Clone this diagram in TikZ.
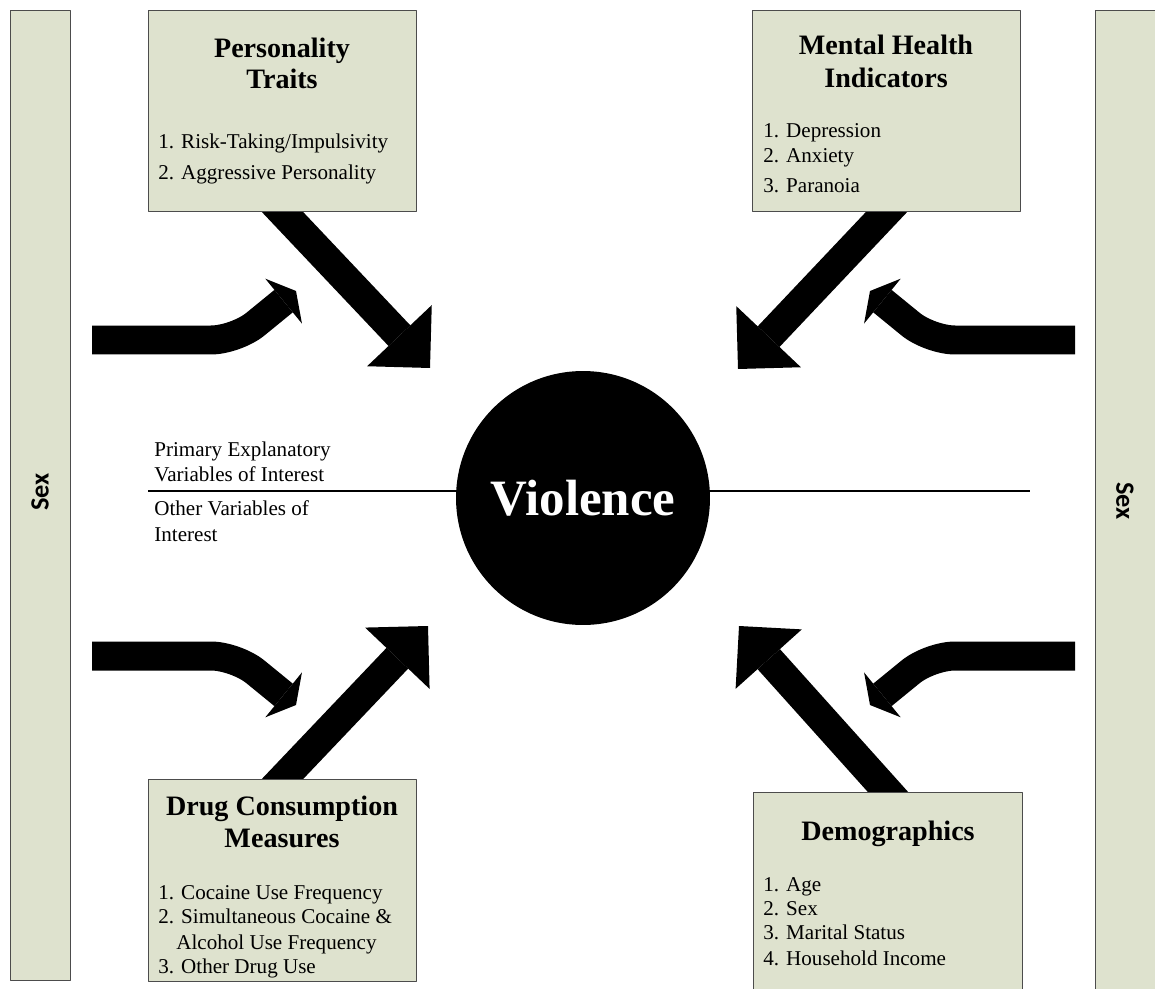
\documentclass[tikz,border=0pt]{standalone}
\usepackage{fontspec}
\setmainfont{Liberation Serif}
\newfontfamily\sexfont{Carlito}
\usetikzlibrary{arrows.meta,backgrounds}
\definecolor{boxgreen}{RGB}{222,226,206}

\begin{document}
\begin{tikzpicture}[x=0.02cm, y=-0.02cm, line join=round,
		varbox/.style={draw=black!70, line width=0.6pt, fill=boxgreen, inner sep=0pt, anchor=north west},
		title/.style={font=\bfseries\fontsize{16}{19}\selectfont, anchor=base, inner sep=0pt},
		item/.style={font=\fontsize{12}{14}\selectfont, anchor=base west, inner sep=0pt},
		sexlabel/.style={font=\sexfont\bfseries\fontsize{15}{18}\selectfont, inner sep=0pt},
		fat/.style={line width=0.6cm, -{Triangle[length=0.89cm, width=1.78cm, line width=0pt]}},
		bent/.style={line width=0.58cm, rounded corners=0.5cm, -{Triangle[length=0.32cm, width=1.16cm, line width=0pt]}}]
		\useasboundingbox (0,0) rectangle (1155,989);

		% Sex on both sides
		\node [varbox, minimum width=1.2cm, minimum height=19.4cm] (sexl) at (10,10) {};
		\node [sexlabel, rotate=90] (sexlt) at (40,492) {Sex};
		\node [varbox, minimum width=1.4cm, minimum height=19.8cm] (sexr) at (1095,10) {};
		\node [sexlabel, rotate=-90] (sexrt) at (1125,501) {Sex};

		% line between the two kinds of variables
		\coordinate (divl) at (148,491);
		\coordinate (divr) at (1030,491);
		\draw [line width=0.6pt] (divl) -- (divr);
		\node [item] (prim1) at (154,456.7) {Primary Explanatory};
		\node [item] (prim2) at (154,481.7) {Variables of Interest};
		\node [item] (oth1) at (154,515) {Other Variables of};
		\node [item] (oth2) at (154,541.7) {Interest};

		% Violence
		\node [circle, fill=black, minimum size=5.08cm, inner sep=0pt, text=white, font=\bfseries\fontsize{29}{34}\selectfont] (viol) at (583,498) {Violence};

		% Personality traits
		\node [varbox, minimum width=5.36cm, minimum height=4.02cm] (pers) at (148,10) {};
		\node [title] (pers1) at (282,57.7) {Personality};
		\node [title] (pers2) at (282,89) {Traits};
		\node [item] (persa) at (158,149) {1. Risk-Taking/Impulsivity};
		\node [item] (persb) at (158,180) {2. Aggressive Personality};

		% Mental health indicators
		\node [varbox, minimum width=5.36cm, minimum height=4.02cm] (ment) at (752,10) {};
		\node [title] (ment1) at (886,55) {Mental Health};
		\node [title] (ment2) at (886,87.3) {Indicators};
		\node [item] (menta) at (763,138) {1. Depression};
		\node [item] (mentb) at (763,163) {2. Anxiety};
		\node [item] (mentc) at (763,193) {3. Paranoia};

		% Drug consumption measures
		\node [varbox, minimum width=5.36cm, minimum height=4.04cm] (drug) at (148,779) {};
		\node [title] (drug1) at (282,815.7) {Drug Consumption};
		\node [title] (drug2) at (282,847.7) {Measures};
		\node [item] (druga) at (158,899) {1. Cocaine Use Frequency};
		\node [item] (drugb) at (158,923.7) {2. Simultaneous Cocaine \&};
		\node [item] (drugc) at (176,949) {Alcohol Use Frequency};
		\node [item] (drugd) at (158,973) {3. Other Drug Use};

		% Demographics
		\node [varbox, minimum width=5.38cm, minimum height=4.16cm] (demo) at (753,792) {};
		\node [title] (demo1) at (888,840) {Demographics};
		\node [item] (demoa) at (763,891) {1. Age};
		\node [item] (demob) at (763,915) {2. Sex};
		\node [item] (democ) at (763,939.3) {3. Marital Status};
		\node [item] (demod) at (763,965) {4. Household Income};

		% straight arrows into Violence, under the boxes
		\coordinate (ptip) at (430,368);
		\coordinate (mtip) at (738,369);
		\coordinate (dtip) at (428,626);
		\coordinate (gtip) at (739,626);
		\begin{scope}[on background layer]
			\draw [fat, shorten <=-0.4cm] (pers.south) -- (ptip);
			\draw [fat, shorten <=-0.4cm] (ment.south) -- (mtip);
			\draw [fat, shorten <=-0.4cm] (drug.north) -- (dtip);
			\draw [fat, shorten <=-0.4cm] (demo.north) -- (gtip);
		\end{scope}

		% bent arrows from Sex
		\coordinate (tlbend) at (236,340);
		\coordinate (tltip) at (296,291);
		\coordinate (trbend) at (930,340);
		\coordinate (trtip) at (870,291);
		\coordinate (blbend) at (236,656);
		\coordinate (bltip) at (296,705);
		\coordinate (brbend) at (930,656);
		\coordinate (brtip) at (870,705);
		\draw [bent, shorten <=0.42cm] (sexl.east |- tlbend) -- (tlbend) -- (tltip);
		\draw [bent, shorten <=0.4cm] (sexr.west |- trbend) -- (trbend) -- (trtip);
		\draw [bent, shorten <=0.42cm] (sexl.east |- blbend) -- (blbend) -- (bltip);
		\draw [bent, shorten <=0.4cm] (sexr.west |- brbend) -- (brbend) -- (brtip);
	\end{tikzpicture}
\end{document}
